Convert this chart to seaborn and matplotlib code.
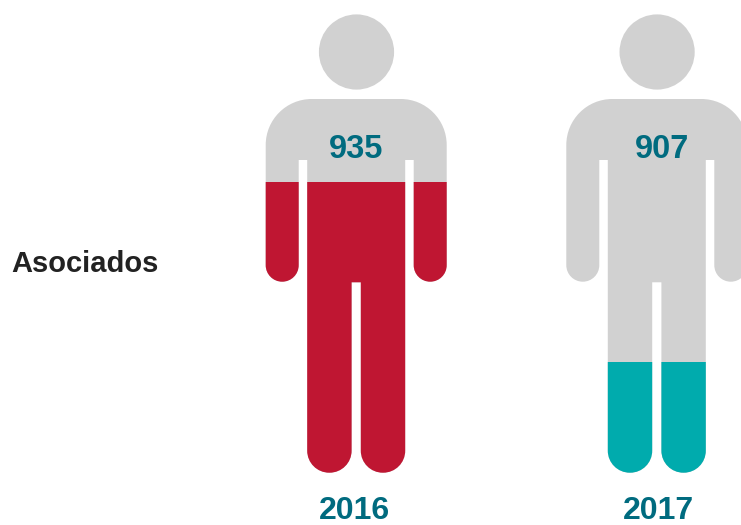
import numpy as np
import pandas as pd
import matplotlib
matplotlib.use("Agg")
import matplotlib.pyplot as plt
import seaborn as sns
from matplotlib.path import Path
from matplotlib.transforms import Affine2D

years = ["2016", "2017"]
totals = [935, 907]
fill_share = [63.4, 24.1]
full_share = [100, 100]
fill_colors = ["#bf1632", "#00abad"]
row_label = "Asociados"

GRAY = "#d1d1d1"
TEAL_TEXT = "#006b7f"
DARK = "#222222"
PX_STEP = 300.6
PX_HEIGHT = 458.7


def rounded_polygon(corners):
    # corners: (x, y, radius), a radius of 0 gives a sharp corner
    verts, codes = [], []
    n = len(corners)
    k = 0.5523
    for i, (x, y, r) in enumerate(corners):
        c = np.array([x, y], dtype=float)
        if r == 0:
            verts.append(c)
            codes.append(Path.MOVETO if i == 0 else Path.LINETO)
            continue
        prev = np.array(corners[i - 1][:2], dtype=float)
        nxt = np.array(corners[(i + 1) % n][:2], dtype=float)
        p0 = c + (prev - c) / np.linalg.norm(prev - c) * r
        p1 = c + (nxt - c) / np.linalg.norm(nxt - c) * r
        verts.append(p0)
        codes.append(Path.MOVETO if i == 0 else Path.LINETO)
        verts += [p0 + k * (c - p0), p1 + k * (c - p1), p1]
        codes += [Path.CURVE4] * 3
    verts.append(verts[0])
    codes.append(Path.CLOSEPOLY)
    return Path(np.array(verts), codes)


def person_path():
    top, gap_top, arm_end, crotch, foot = 85, 146, 267.7, 268.3, 458.7
    outer, arm_in, torso, leg_in = 90.5, 57.5, 49, 4.6
    half = [
        (0, crotch, 0), (leg_in, crotch, 0), (leg_in, foot, 22), (torso, foot, 22),
        (torso, gap_top, 0), (arm_in, gap_top, 0), (arm_in, arm_end, 16.5),
        (outer, arm_end, 16.5), (outer, top, 46),
    ]
    mirror = [(-x, y, r) for x, y, r in half[::-1]]
    body = rounded_polygon(half + mirror[:-1])
    head = Path.circle((0.3, 38), 37.6)
    return Path.make_compound_path(head, body)


df = pd.DataFrame({"year": years, "full": full_share, "fill": fill_share})

sns.set_theme(style="white")
plt.rcParams["font.family"] = ["Liberation Sans", "DejaVu Sans"]

fig = plt.figure(figsize=(7.41, 5.25), dpi=100)
ax = fig.add_axes([0, 0, 1, 1])

bar_w = 0.61
sns.barplot(data=df, x="year", y="full", color=GRAY, width=bar_w, saturation=1, ax=ax)
n_bg = len(ax.patches)
sns.barplot(data=df, x="year", y="fill", hue="year", palette=fill_colors, width=bar_w,
            saturation=1, legend=False, ax=ax)

ax.set_xlim(-356.2 / PX_STEP, (741 - 356.2) / PX_STEP)
ax.set_ylim(-52.3 * 100 / PX_HEIGHT, 100 + 14 * 100 / PX_HEIGHT)
ax.axis("off")

# every bar is clipped to the person standing at its category
person = person_path()
for j, bar in enumerate(ax.patches):
    i = j % n_bg
    bar.set_linewidth(0)
    tr = Affine2D().scale(1 / PX_STEP, -100 / PX_HEIGHT).translate(i, 100) + ax.transData
    bar.set_clip_path(person, tr)

value_dx = [0.001, 0.018]
year_dx = [-0.007, 0.006]
for i, (total, year) in enumerate(zip(totals, years)):
    ax.text(i + value_dx[i], 70.4, str(total), ha="center", va="center",
            fontsize=23.5, fontweight="bold", color=TEAL_TEXT)
    ax.text(i + year_dx[i], -8.3, year, ha="center", va="center",
            fontsize=23, fontweight="bold", color=TEAL_TEXT)

fig.text(11 / 741, 1 - 264 / 525, row_label, ha="left", va="center",
         fontsize=21, fontweight="bold", color=DARK)

fig.savefig("out.png", dpi=100)
